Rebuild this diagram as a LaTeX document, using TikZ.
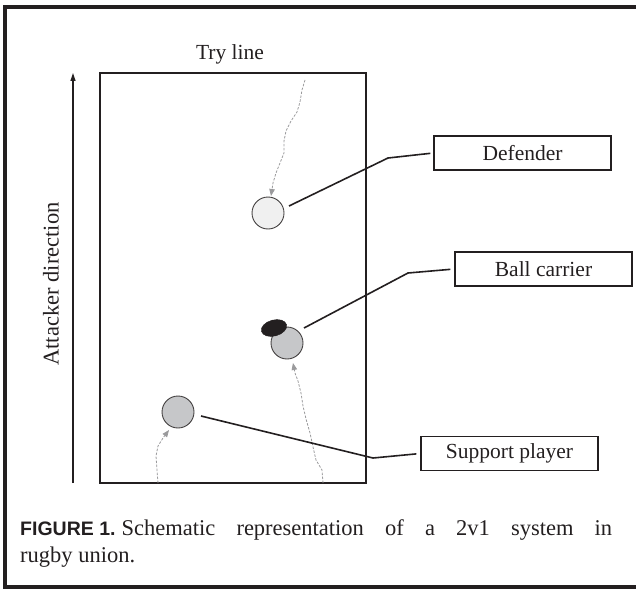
\documentclass[tikz,border=0pt]{standalone}
\usepackage{fontspec}
\setmainfont{Liberation Serif}
\newfontfamily\capsans{Liberation Sans}
\usetikzlibrary{arrows.meta,shapes.geometric}
\definecolor{ink}{HTML}{231F20}
\definecolor{pathgray}{HTML}{9A9A9C}
\definecolor{playergray}{HTML}{C6C7C9}
\definecolor{defgray}{HTML}{F0F0F0}
\tikzset{
  lbl/.style={font=\fontsize{21.5}{26}\selectfont, text=ink},
  lbox/.style={lbl, draw=ink, line width=1.4pt, rectangle, minimum width=177pt, minimum height=34pt, inner sep=0pt},
  conn/.style={draw=ink, line width=1.6pt},
  traj/.style={draw=pathgray, line width=0.8pt, dash pattern=on 2.5pt off 1.5pt, -{Triangle[length=7pt,width=5.5pt,fill=pathgray,sep=0pt]}},
  player/.style={circle, draw=ink!85, line width=0.9pt, minimum size=32pt, inner sep=0pt},
}
\begin{document}
\frenchspacing
\begin{tikzpicture}[x=1pt,y=-1pt]
\useasboundingbox (0,0) rectangle (636,591);
% outer frame (right side beyond the picture)
\draw[ink, line width=3.5pt] (645,7) -- (5,7) -- (5,587) -- (645,587);
% field
\node[draw=ink, line width=1.4pt, rectangle, minimum width=266pt, minimum height=410pt, inner sep=0pt] (field) at (233,278) {};
\node[lbl] (try) at (230,54) {Try line};
% attacker direction arrow
\coordinate (aBot) at (73,483);
\coordinate (aTop) at (73,73);
\draw[ink, line width=1.2pt, -{Triangle[length=8pt,width=5pt]}] (aBot) -- (aTop);
\node[lbl, font=\fontsize{22.5}{26}\selectfont, rotate=90] (att) at (51,284) {Attacker direction};
% players
\node[player, fill=defgray] (def) at (268,213) {};
\node[player, fill=playergray] (bc) at (287,343) {};
\node[ellipse, fill=ink, draw=ink, minimum width=26pt, minimum height=16pt, inner sep=0pt, rotate=15] (ball) at (274,328) {};
\node[player, fill=playergray] (sup) at (178,412) {};
% trajectories
\coordinate (tDef) at (305,80);
\draw[traj] (tDef) -- (302,90) -- (300,102) -- (297,112) -- (291,121) -- (286,131) -- (284,141) -- (284,153) -- (280,163) -- (276,173) -- (273,183) -- (271,196);
\coordinate (tBc) at (323,483);
\draw[traj] (tBc) -- (322,470) -- (316,460) -- (313,447) -- (310,433) -- (306,419) -- (303,406) -- (301,393) -- (298,381) -- (295,373) -- (293,363);
\coordinate (tSup) at (158,483);
\draw[traj] (tSup) -- (157,470) -- (156,456) -- (158,446) -- (163,438) -- (169,430);
% label boxes
\node[lbox] (defbox) at (522.5,153) {Defender};
\node[lbox] (bcbox) at (543.5,269) {Ball carrier};
\node[lbox] (supbox) at (509.5,453.5) {Support player};
% connectors
\coordinate (cDef) at (289,206);
\draw[conn, shorten >=3pt] (cDef) -- (388,158) -- (defbox.west);
\coordinate (cBc) at (304,328);
\draw[conn, shorten >=4pt] (cBc) -- (408,273) -- (bcbox.west);
\coordinate (cSup) at (201,416);
\draw[conn, shorten >=4pt] (cSup) -- (373,458) -- (supbox.west);
% caption
\node[anchor=north west, inner sep=0pt, text width=592pt, align=justify, font=\fontsize{22.5}{27}\selectfont, text=ink] (cap) at (20,519)
  {\frenchspacing{\capsans\bfseries\fontsize{19.5}{27}\selectfont FIGURE\hspace{5.5pt}1.}\hspace{6pt}Schematic representation of a 2v1 system in{\parfillskip=0pt\par}\noindent rugby union.};
\end{tikzpicture}
\end{document}
